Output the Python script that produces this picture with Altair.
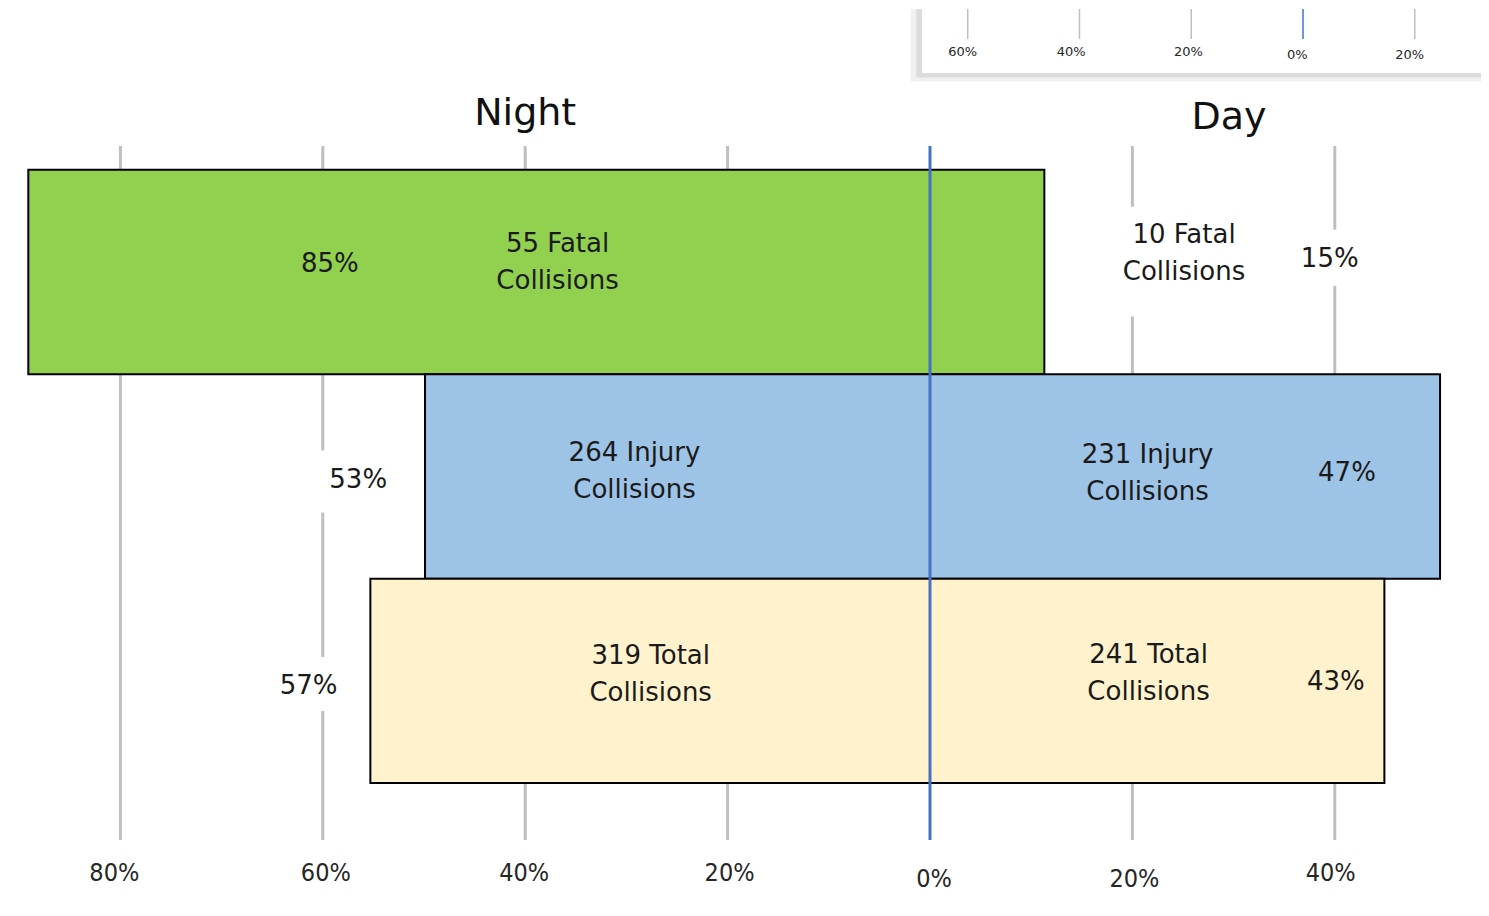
import altair as alt
import pandas as pd

# ---------------- data ----------------
categories = ["Fatal", "Injury", "Total"]
night_counts = [55, 264, 319]
day_counts = [10, 231, 241]
night_share = [85, 53, 57]
day_share = [15, 47, 43]
# bar extents as drawn in the picture (percent left / right of 0%)
night_extent = [89.1, 49.9, 55.3]
day_extent = [11.3, 50.4, 44.9]
bar_colors = ["#92D050", "#9DC3E6", "#FFF2CC"]

tick_values = [-80, -60, -40, -20, 20, 40]
tick_labels = ["80%", "60%", "40%", "20%", "0%", "20%", "40%"]
inset_ticks = [-60, -40, -20, 20]
inset_labels = ["60%", "40%", "20%", "0%", "20%"]

# ---------------- layout (label placement, row units / percent) ----------------
count_x_night = [-36.8, -29.2, -27.6]
count_row_night = [0.362, 1.383, 2.380]
count_x_day = [25.1, 21.5, 21.6]
count_row_day = [0.320, 1.393, 2.375]
share_x_night = [-59.3, -56.5, -61.4]
share_row_night = [0.459, 1.515, 2.526]
share_x_day = [39.5, 41.2, 40.1]
share_row_day = [0.435, 1.485, 2.507]
tick_label_x = [-80.6, -59.7, -40.1, -19.8, 0.4, 20.2, 39.6]
tick_label_row = [3.440, 3.440, 3.440, 3.440, 3.469, 3.469, 3.440]
grid_top, grid_bottom = -0.117, 3.278
gap_boxes = [(16.8, 32.6, 0.181, 0.718), (36.6, 42.7, 0.293, 0.567),
             (-60.8, -52.4, 1.373, 1.676), (-64.2, -58.3, 2.383, 2.647)]

Y_DOMAIN = [-0.7866, 3.611]
X_DOMAIN = [-91.107, 54.447]
INSET_DOMAIN = [-231.77, 31.86]

FONT = "DejaVu Sans"
TICK_FONT = "Liberation Sans Narrow, DejaVu Sans Condensed, sans-serif"

xs = alt.Scale(domain=X_DOMAIN, nice=False, zero=False)
ys = alt.Scale(domain=Y_DOMAIN, nice=False, zero=False, reverse=True)
xi = alt.Scale(domain=INSET_DOMAIN, nice=False, zero=False)


def X(f, scale=xs):
    return alt.X(f"{f}:Q", scale=scale, axis=None)


def Y(f):
    return alt.Y(f"{f}:Q", scale=ys, axis=None)


# ---------------- main chart ----------------
grid_df = pd.DataFrame({"x": tick_values, "y": grid_top, "y2": grid_bottom})
grid = alt.Chart(grid_df).mark_rule(color="#BFBFBF", strokeWidth=3).encode(
    x=X("x"), y=Y("y"), y2="y2")

gap_df = pd.DataFrame(gap_boxes, columns=["x", "x2", "y", "y2"])
gaps = alt.Chart(gap_df).mark_rect(color="white").encode(
    x=X("x"), x2="x2", y=Y("y"), y2="y2")

bar_df = pd.DataFrame({
    "cat": categories,
    "x": [-v for v in night_extent],
    "x2": day_extent,
    "y": list(range(len(categories))),
    "y2": [i + 1 for i in range(len(categories))],
    "color": bar_colors,
})
bars = alt.Chart(bar_df).mark_rect(stroke="black", strokeWidth=2).encode(
    x=X("x"), x2="x2", y=Y("y"), y2="y2",
    color=alt.Color("color:N", scale=None))

zero_df = pd.DataFrame({"x": [0], "y": [grid_top], "y2": [grid_bottom]})
zero_line = alt.Chart(zero_df).mark_rule(color="#4472C4", strokeWidth=3).encode(
    x=X("x"), y=Y("y"), y2="y2")

label_rows = []
for i, c in enumerate(categories):
    label_rows.append({"x": count_x_night[i], "y": count_row_night[i],
                       "t": f"{night_counts[i]} {c}\nCollisions"})
    label_rows.append({"x": count_x_day[i], "y": count_row_day[i],
                       "t": f"{day_counts[i]} {c}\nCollisions"})
    label_rows.append({"x": share_x_night[i], "y": share_row_night[i],
                       "t": f"{night_share[i]}%"})
    label_rows.append({"x": share_x_day[i], "y": share_row_day[i],
                       "t": f"{day_share[i]}%"})
labels = alt.Chart(pd.DataFrame(label_rows)).mark_text(
    font=FONT, fontSize=26, color="#1a1a1a", lineBreak="\n", lineHeight=37,
    align="center", baseline="middle").encode(x=X("x"), y=Y("y"), text="t:N")

tick_df = pd.DataFrame({"x": tick_label_x, "y": tick_label_row, "t": tick_labels})
ticks = alt.Chart(tick_df).mark_text(
    font=TICK_FONT, fontSize=25, color="#262626", align="center",
    baseline="middle").encode(x=X("x"), y=Y("y"), text="t:N")

title_df = pd.DataFrame({"x": [-40.0, 29.55], "y": [-0.274, -0.254],
                         "t": ["Night", "Day"]})
titles = alt.Chart(title_df).mark_text(
    font=FONT, fontSize=38, color="#111111", align="center",
    baseline="middle").encode(x=X("x"), y=Y("y"), text="t:N")

main = alt.layer(grid, gaps, bars, zero_line, labels, ticks, titles)

# ---------------- inset (partial view of another chart) ----------------
shadow_df = pd.DataFrame({"x": [-70.2, -69.2], "x2": [31.86, 31.86],
                          "y": [Y_DOMAIN[0]] * 2, "y2": [-0.432, -0.452],
                          "c": ["#f0f0f0", "#dcdcdc"]})
shadow = alt.Chart(shadow_df).mark_rect().encode(
    x=X("x", xi), x2="x2", y=Y("y"), y2="y2", color=alt.Color("c:N", scale=None))
box_df = pd.DataFrame({"x": [-68.19], "x2": [31.86], "y": [Y_DOMAIN[0]], "y2": [-0.474]})
box = alt.Chart(box_df).mark_rect(color="white").encode(
    x=X("x", xi), x2="x2", y=Y("y"), y2="y2")
igrid_df = pd.DataFrame({"x": inset_ticks, "y": Y_DOMAIN[0], "y2": -0.640})
igrid = alt.Chart(igrid_df).mark_rule(color="#BFBFBF", strokeWidth=1.5).encode(
    x=X("x", xi), y=Y("y"), y2="y2")
izero_df = pd.DataFrame({"x": [0], "y": [Y_DOMAIN[0]], "y2": [-0.640]})
izero = alt.Chart(izero_df).mark_rule(color="#4472C4", strokeWidth=1.5).encode(
    x=X("x", xi), y=Y("y"), y2="y2")
ilab_df = pd.DataFrame({"x": [-60.9, -41.5, -20.5, -1.0, 19.1],
                        "y": [-0.5765, -0.5765, -0.5765, -0.562, -0.562],
                        "t": inset_labels})
ilabels = alt.Chart(ilab_df).mark_text(
    font=FONT, fontSize=13, color="#262626", align="center",
    baseline="middle").encode(x=X("x", xi), y=Y("y"), text="t:N")

inset = alt.layer(shadow, box, igrid, izero, ilabels)

chart = alt.layer(main, inset).resolve_scale(x="independent").properties(
    width=1473, height=900,
    autosize=alt.AutoSizeParams(type="fit", contains="padding"),
    padding=0, background="white",
).configure_view(stroke=None)

chart.save("out.html", embed_options={"renderer": "svg", "actions": False})
